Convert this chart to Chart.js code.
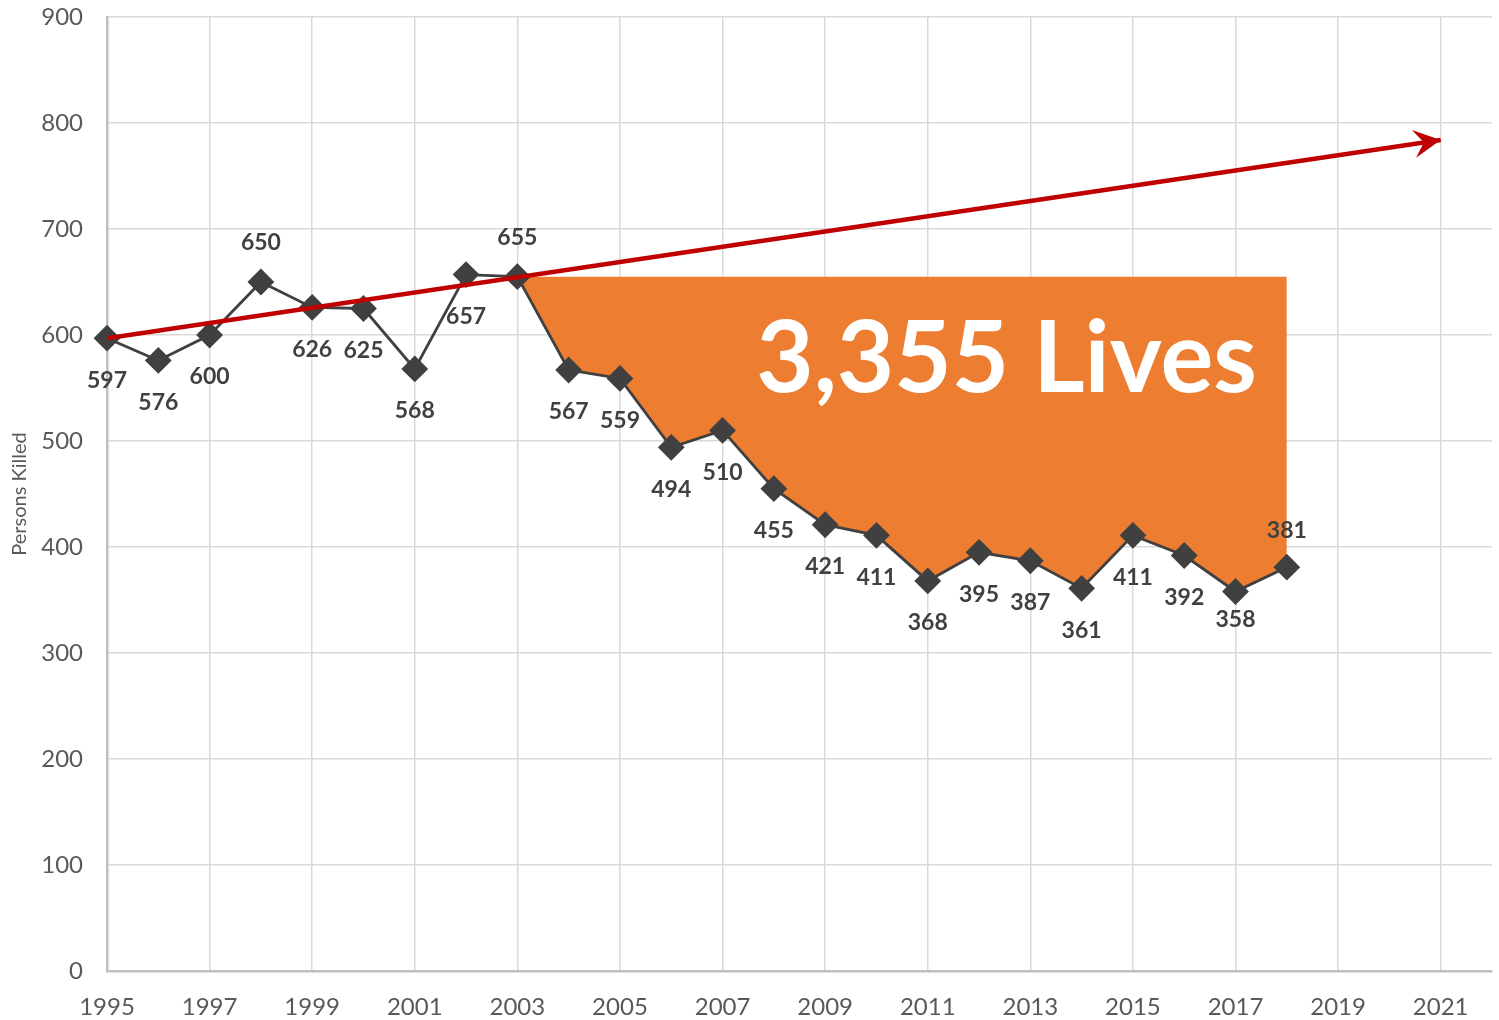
<!DOCTYPE html>
<html>
<head>
<meta charset="utf-8">
<script src="https://cdn.jsdelivr.net/npm/chart.js@4.4.0/dist/chart.umd.min.js"></script>
<style>
html,body{margin:0;padding:0;background:#fff;}
</style>
</head>
<body>
<canvas id="myChart" width="1499" height="1020"></canvas>
<script>
var years = [1995,1996,1997,1998,1999,2000,2001,2002,2003,2004,2005,2006,2007,2008,2009,2010,2011,2012,2013,2014,2015,2016,2017,2018];
var killed = [597,576,600,650,626,625,568,657,655,567,559,494,510,455,421,411,368,395,387,361,411,392,358,381];
var trendYears = [1995,2021];//紅色趨勢線
var trendValues = [597,784];
var savedFrom = 2003;//橘色區塊從這年開始
var savedLevel = 655;
var savedText = '3,355 Lives';
var xTicks = [1995,1997,1999,2001,2003,2005,2007,2009,2011,2013,2015,2017,2019,2021];
var yTicks = [0,100,200,300,400,500,600,700,800,900];

var killedPts = years.map(function(y,i){ return {x:y, y:killed[i]}; });
var trendPts = trendYears.map(function(y,i){ return {x:y, y:trendValues[i]}; });
var savedPts = killedPts.filter(function(p){ return p.x >= savedFrom; });

var fontFam = 'Lato, "Open Sans", sans-serif';

function noPad(s){//不要讓刻度文字多加padding
    s.paddingTop = 0; s.paddingBottom = 0;
    s.paddingLeft = 0; s.paddingRight = 0;
}

// 箭頭 + 數字標籤 + 大字
var extras = {
    id: 'extras',
    afterDatasetsDraw: function(chart){
        var ctx = chart.ctx;
        var xs = chart.scales.x, ys = chart.scales.y;

        // 大字
        ctx.save();
        ctx.fillStyle = '#ffffff';
        ctx.font = 'bold 99px ' + fontFam;
        ctx.textAlign = 'right';
        ctx.textBaseline = 'middle';
        ctx.fillText(savedText, xs.getPixelForValue(years[years.length-1]) - 30, ys.getPixelForValue(576));
        ctx.restore();

        // 紅色箭頭
        var tm = chart.getDatasetMeta(0).data;
        var a = tm[tm.length-2], b = tm[tm.length-1];
        var ang = Math.atan2(b.y - a.y, b.x - a.x);
        ctx.save();
        ctx.translate(b.x, b.y);
        ctx.rotate(ang);
        ctx.fillStyle = '#C00000';
        ctx.beginPath();
        ctx.moveTo(0, 0);
        ctx.lineTo(-27, -14);
        ctx.lineTo(-17, 0);
        ctx.lineTo(-27, 14);
        ctx.closePath();
        ctx.fill();
        ctx.restore();

        // 數字標籤
        var km = chart.getDatasetMeta(1).data;
        ctx.save();
        ctx.fillStyle = '#404040';
        ctx.font = 'bold 23px ' + fontFam;
        ctx.textAlign = 'center';
        ctx.textBaseline = 'middle';
        km.forEach(function(pt, i){
            var yr = years[i];
            var dy = 42;
            if (yr == 1998 || yr == 2003) dy = -39;
            if (yr == 2018) dy = -37;
            if (yr == 2017) dy = 28;
            ctx.fillText(String(killed[i]), pt.x, pt.y + dy);
        });
        ctx.restore();
    }
};

var ctx = document.getElementById('myChart').getContext('2d');
var myChart = new Chart(ctx, {
    type: 'line',
    data: {
        datasets: [{
            label: 'trend',
            data: trendPts,
            borderColor: '#C00000',
            borderWidth: 4.5,
            pointRadius: 0,
            fill: false
        },{
            label: 'killed',
            data: killedPts,
            borderColor: '#404040',
            borderWidth: 2.8,
            pointStyle: 'rectRot',
            pointRadius: 12,
            pointBackgroundColor: '#404040',
            pointBorderColor: '#404040',
            pointBorderWidth: 2,
            clip: false,
            fill: false
        },{
            label: 'saved',
            data: savedPts,
            borderWidth: 0,
            pointRadius: 0,
            backgroundColor: '#ED7D31',
            fill: {value: savedLevel}
        }]
    },
    options: {
        responsive: false,
        animation: false,
        devicePixelRatio: 1,
        layout: { padding: {top: 17, right: 7, left: 0, bottom: 0} },
        plugins: { legend: {display: false}, tooltip: {enabled: false} },
        scales: {
            x: {
                type: 'linear',
                min: 1995,
                max: 2022,
                afterBuildTicks: function(s){ s.ticks = xTicks.map(function(v){ return {value: v}; }); },
                afterFit: function(s){ s.height = 49; noPad(s); },
                grid: { color: '#d9d9d9', lineWidth: 1.5, drawTicks: false },
                border: { color: '#bfbfbf', width: 2.5 },
                ticks: {
                    color: '#595959',
                    font: {family: fontFam, size: 24},
                    padding: 22,
                    maxRotation: 0,
                    autoSkip: false,
                    callback: function(v){ return String(v); }
                }
            },
            y: {
                min: 0,
                max: 900,
                afterBuildTicks: function(s){ s.ticks = yTicks.map(function(v){ return {value: v}; }); },
                afterFit: function(s){ s.width = 107; noPad(s); },
                grid: { color: '#d9d9d9', lineWidth: 1.5, drawTicks: false },
                border: { color: '#bfbfbf', width: 2.5 },
                title: {
                    display: true,
                    text: 'Persons Killed',
                    color: '#595959',
                    font: {family: fontFam, size: 20},
                    padding: {top: 8, bottom: 0}
                },
                ticks: {
                    color: '#595959',
                    font: {family: fontFam, size: 24},
                    padding: 24
                }
            }
        }
    },
    plugins: [extras]
});
// 菱形點太大會讓圖表自動縮小,取消這個溢出空間
[0,1,2].forEach(function(i){
    myChart.getDatasetMeta(i).controller.getMaxOverflow = function(){ return 0; };
});
myChart.update();
</script>
</body>
</html>
